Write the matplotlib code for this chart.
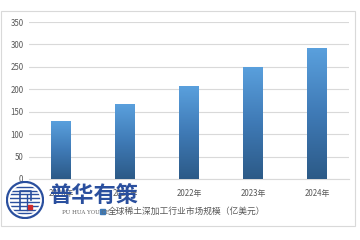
"""Global rare earth deep processing market size bar chart"""

import numpy as np
import matplotlib
matplotlib.use('Agg')
import matplotlib.pyplot as plt
from matplotlib.patches import Rectangle, Circle
from matplotlib.colors import LinearSegmentedColormap

plt.rcParams['font.family'] = ['Noto Sans CJK SC', 'DejaVu Sans']

years = ['2020年', '2021年', '2022年', '2023年', '2024年']
market_size = [129, 167, 207, 250, 292]
yticks = [0, 50, 100, 150, 200, 250, 300, 350]
legend_label = '全球稀土深加工行业市场规模（亿美元）'

W, H = 360, 240
fig = plt.figure(figsize=(W / 100, H / 100), dpi=100)
fig.patch.set_facecolor('white')

# outer chart frame
fig.patches.append(Rectangle((1 / W, 1 - 226 / H), 354 / W, 215 / H,
                             transform=fig.transFigure, fill=False,
                             edgecolor='#d9d9d9', linewidth=0.8))

ax = fig.add_axes([29 / W, 1 - 179 / H, 320 / W, 157 / H])
x = np.arange(len(years))
bars = ax.bar(x, market_size, width=0.31, color='none', edgecolor='none', zorder=3)

grad = LinearSegmentedColormap.from_list('bar', ['#2c5a87', '#3f7ab6', '#5aa0dd'])
g = np.linspace(0, 1, 256).reshape(-1, 1)
for b in bars:
    x0, y0, w, h = b.get_x(), b.get_y(), b.get_width(), b.get_height()
    im = ax.imshow(g, cmap=grad, origin='lower', aspect='auto',
                   extent=(x0, x0 + w, y0, y0 + h), zorder=3)
    im.set_clip_path(b)

ax.set_xlim(-0.5, len(years) - 0.5)
ax.set_ylim(0, 350)
ax.set_yticks(yticks)
ax.set_xticks(x)
ax.set_xticklabels(years)
ax.yaxis.grid(True, color='#d9d9d9', linewidth=0.8)
ax.set_axisbelow(True)
for s in ['top', 'right', 'left']:
    ax.spines[s].set_visible(False)
ax.spines['bottom'].set_color('#d9d9d9')
ax.tick_params(length=0, labelsize=5.7, colors='#595959', pad=4)
ax.tick_params(axis='x', pad=7)

# legend
fig.patches.append(Rectangle((100 / W, 1 - 214 / H), 5 / W, 5 / H,
                             transform=fig.transFigure, color='#3f7ab6'))
fig.text(108 / W, 1 - 211 / H, legend_label, fontsize=6.3, color='#595959', va='center')

# watermark logo
fig.text(49 / W, 1 - 195 / H, '普华有策', fontsize=16, fontweight='bold',
         color='#2a4f9e', va='center')
fig.text(62 / W, 1 - 212 / H, 'PU HUA YOU CE', fontsize=4, color='#666666',
         va='center', family='DejaVu Serif')
lax = fig.add_axes([6 / W, 1 - 219 / H, 38 / W, 38 / H])
lax.set_xlim(-1, 1)
lax.set_ylim(-1, 1)
lax.set_aspect('equal')
lax.axis('off')
ring = Circle((0, 0), 0.95, facecolor='none', edgecolor='#2a4f9e', linewidth=1.6)
lax.add_patch(ring)
disc = Circle((0, 0), 0.8, facecolor='none', edgecolor='none')
lax.add_patch(disc)
for yy in np.linspace(-0.7, 0.7, 8):
    ln, = lax.plot([-0.8, 0.8], [yy, yy], color='#2a4f9e', linewidth=1.0)
    ln.set_clip_path(disc)
lax.add_patch(Rectangle((-0.4, -0.6), 0.8, 1.2, facecolor='white', edgecolor='none'))
lax.plot([-0.25, -0.25, 0.3, 0.3], [-0.55, 0.45, 0.45, 0.0], color='#2a4f9e', linewidth=1.2)
lax.plot([0.1, 0.1], [-0.55, 0.25], color='#2a4f9e', linewidth=1.0)
lax.plot([0.25], [-0.35], marker='s', color='#d12a2a', markersize=2.2)

fig.savefig('out.png', dpi=100)
